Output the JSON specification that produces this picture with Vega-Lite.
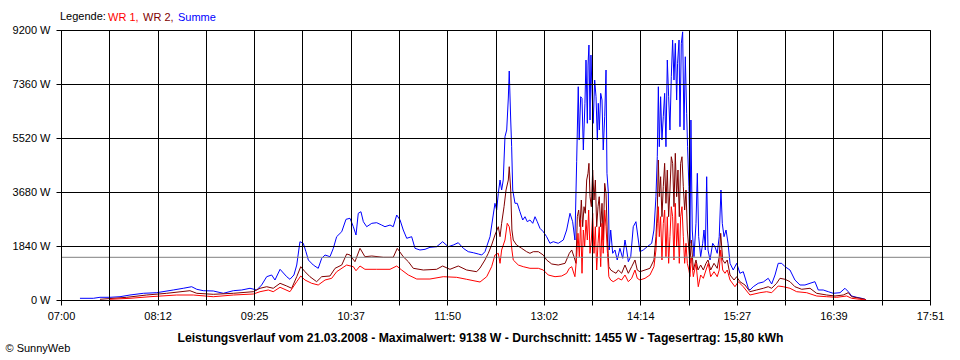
{
  "$schema": "https://vega.github.io/schema/vega-lite/v6.json",
  "width": 869,
  "height": 270,
  "autosize": {"type": "none"},
  "padding": {"left": 61, "top": 30, "right": 30, "bottom": 60},
  "background": "white",
  "config": {
    "font": "Liberation Sans",
    "view": {"stroke": "black", "strokeWidth": 1},
    "axis": {"labelFont": "Liberation Sans", "titleFont": "Liberation Sans"}
  },
  "datasets": {
    "sum": [
      {"t":434.2,"w":58},{"t":444.2,"w":58},{"t":449.2,"w":92},{"t":456.7,"w":92},{"t":464.2,"w":112},{"t":471.7,"w":170},{"t":481.7,"w":228},{"t":491.7,"w":249},{"t":504.1,"w":341},{"t":511.6,"w":399},{"t":517.9,"w":453},{"t":521.7,"w":365},{"t":526.6,"w":317},{"t":534.1,"w":307},{"t":541.6,"w":228},{"t":549.1,"w":317},{"t":555.4,"w":341},{"t":561.6,"w":399},{"t":566.6,"w":341},{"t":570.3,"w":511},{"t":574.1,"w":794},{"t":577.8,"w":852},{"t":580.3,"w":681},{"t":584.1,"w":1046},{"t":589.1,"w":794},{"t":591.5,"w":705},{"t":594.5,"w":852},{"t":596.6,"w":1192},{"t":599.0,"w":1986},{"t":601.5,"w":1932},{"t":603.5,"w":1646},{"t":605.3,"w":1363},{"t":609.0,"w":1192},{"t":612.7,"w":1080},{"t":615.3,"w":1421},{"t":617.8,"w":1533},{"t":621.5,"w":1475},{"t":624.0,"w":1761},{"t":626.5,"w":2157},{"t":630.3,"w":2327},{"t":633.5,"w":2749},{"t":636.5,"w":2784},{"t":639.0,"w":2497},{"t":641.0,"w":2215},{"t":642.7,"w":2954},{"t":644.7,"w":3008},{"t":646.5,"w":2668},{"t":649.0,"w":2497},{"t":652.8,"w":2613},{"t":656.5,"w":2634},{"t":660.2,"w":2555},{"t":662.7,"w":2497},{"t":666.5,"w":2555},{"t":668.9,"w":2497},{"t":671.5,"w":2896},{"t":674.0,"w":2726},{"t":676.4,"w":2385},{"t":679.0,"w":2102},{"t":682.7,"w":2157},{"t":685.2,"w":1761},{"t":688.9,"w":1704},{"t":692.7,"w":1727},{"t":696.4,"w":1795},{"t":701.4,"w":1816},{"t":705.9,"w":1986},{"t":710.1,"w":1816},{"t":713.9,"w":1874},{"t":717.6,"w":1952},{"t":721.4,"w":1761},{"t":725.1,"w":1646},{"t":728.9,"w":1611},{"t":732.6,"w":1567},{"t":735.2,"w":1533},{"t":737.6,"w":1646},{"t":741.4,"w":2157},{"t":743.8,"w":2896},{"t":745.1,"w":3295},{"t":746.4,"w":3066},{"t":747.6,"w":3635},{"t":748.9,"w":4088},{"t":750.1,"w":3748},{"t":751.3,"w":4088},{"t":752.6,"w":5564},{"t":753.9,"w":5792},{"t":755.1,"w":6882},{"t":755.8,"w":7802},{"t":756.9,"w":6133},{"t":757.6,"w":5223},{"t":758.4,"w":3748},{"t":760.1,"w":3295},{"t":761.8,"w":3295},{"t":763.8,"w":3008},{"t":765.9,"w":2726},{"t":767.6,"w":2838},{"t":769.3,"w":2668},{"t":771.3,"w":2726},{"t":773.4,"w":2613},{"t":775.1,"w":2838},{"t":776.8,"w":2668},{"t":778.8,"w":2443},{"t":781.3,"w":2327},{"t":783.8,"w":2157},{"t":786.3,"w":1932},{"t":788.8,"w":1986},{"t":792.5,"w":1932},{"t":796.3,"w":2044},{"t":798.8,"w":2385},{"t":801.3,"w":2954},{"t":803.3,"w":2668},{"t":805.0,"w":2044},{"t":806.3,"w":4712},{"t":807.5,"w":7267},{"t":808.2,"w":5451},{"t":809.3,"w":6927},{"t":810.3,"w":6872},{"t":811.3,"w":5111},{"t":812.5,"w":6702},{"t":813.3,"w":8177},{"t":814.3,"w":6020},{"t":814.8,"w":8006},{"t":815.5,"w":8688},{"t":816.3,"w":6133},{"t":817.0,"w":8347},{"t":817.8,"w":7155},{"t":818.7,"w":6020},{"t":819.8,"w":7495},{"t":820.8,"w":6927},{"t":821.8,"w":5451},{"t":822.5,"w":6702},{"t":823.3,"w":5792},{"t":824.3,"w":7042},{"t":825.3,"w":6814},{"t":826.2,"w":5111},{"t":827.3,"w":6245},{"t":828.3,"w":7836},{"t":829.0,"w":4317},{"t":830.0,"w":3690},{"t":830.7,"w":1704},{"t":831.8,"w":2385},{"t":833.3,"w":1591},{"t":835.0,"w":1704},{"t":836.7,"w":1363},{"t":838.7,"w":1761},{"t":840.8,"w":1421},{"t":842.5,"w":2044},{"t":843.8,"w":1704},{"t":845.0,"w":1305},{"t":846.8,"w":1475},{"t":848.7,"w":2497},{"t":850.7,"w":2668},{"t":852.5,"w":2044},{"t":853.7,"w":1646},{"t":856.2,"w":1704},{"t":859.2,"w":1816},{"t":862.5,"w":1932},{"t":864.2,"w":2385},{"t":865.7,"w":3520},{"t":866.7,"w":4882},{"t":867.5,"w":7267},{"t":868.2,"w":5223},{"t":869.2,"w":6927},{"t":870.2,"w":5451},{"t":871.2,"w":6245},{"t":872.2,"w":7042},{"t":873.2,"w":5223},{"t":874.2,"w":8177},{"t":875.2,"w":6927},{"t":876.2,"w":5792},{"t":877.2,"w":7608},{"t":878.2,"w":8858},{"t":879.2,"w":7495},{"t":880.2,"w":8746},{"t":881.2,"w":6814},{"t":881.9,"w":8065},{"t":883.0,"w":8858},{"t":883.7,"w":5904},{"t":884.7,"w":8746},{"t":885.7,"w":9138},{"t":886.7,"w":5792},{"t":887.7,"w":8289},{"t":888.7,"w":6361},{"t":889.4,"w":5223},{"t":890.4,"w":3860},{"t":891.2,"w":1932},{"t":891.9,"w":6133},{"t":892.9,"w":2385},{"t":894.2,"w":1475},{"t":895.7,"w":2613},{"t":896.7,"w":4317},{"t":897.7,"w":2157},{"t":899.2,"w":1475},{"t":900.7,"w":1932},{"t":901.7,"w":2385},{"t":902.7,"w":1704},{"t":903.7,"w":4201},{"t":904.7,"w":1704},{"t":906.2,"w":1363},{"t":908.2,"w":1932},{"t":909.9,"w":1816},{"t":911.6,"w":1591},{"t":913.1,"w":2157},{"t":914.4,"w":3748},{"t":915.4,"w":2613},{"t":916.7,"w":2157},{"t":918.2,"w":2385},{"t":919.7,"w":1932},{"t":921.2,"w":1250},{"t":923.6,"w":1022},{"t":926.2,"w":1250},{"t":928.6,"w":910},{"t":931.1,"w":964},{"t":934.9,"w":399},{"t":936.1,"w":341},{"t":938.6,"w":453},{"t":942.3,"w":569},{"t":946.1,"w":613},{"t":949.8,"w":739},{"t":952.4,"w":545},{"t":954.9,"w":852},{"t":957.3,"w":1250},{"t":959.9,"w":1250},{"t":962.4,"w":1135},{"t":966.1,"w":1022},{"t":969.8,"w":681},{"t":973.6,"w":511},{"t":977.3,"w":511},{"t":981.1,"w":569},{"t":984.8,"w":624},{"t":987.3,"w":341},{"t":991.0,"w":341},{"t":994.8,"w":283},{"t":998.5,"w":228},{"t":1003.6,"w":249},{"t":1007.3,"w":399},{"t":1009.8,"w":283},{"t":1012.3,"w":136},{"t":1016.1,"w":92},{"t":1019.8,"w":58},{"t":1022.3,"w":24},{"t":1023.1,"w":0}
    ],
    "wr2": [
      {"t":449.2,"w":24},{"t":469.2,"w":92},{"t":484.2,"w":170},{"t":499.2,"w":228},{"t":516.6,"w":317},{"t":521.7,"w":228},{"t":534.1,"w":194},{"t":549.1,"w":228},{"t":564.1,"w":283},{"t":569.1,"w":399},{"t":574.1,"w":453},{"t":579.0,"w":399},{"t":584.1,"w":569},{"t":589.1,"w":477},{"t":592.8,"w":399},{"t":596.6,"w":794},{"t":599.6,"w":1135},{"t":602.8,"w":964},{"t":606.5,"w":794},{"t":611.5,"w":624},{"t":615.3,"w":794},{"t":621.5,"w":818},{"t":625.3,"w":1080},{"t":630.3,"w":1192},{"t":634.0,"w":1567},{"t":636.5,"w":1533},{"t":640.2,"w":1305},{"t":644.0,"w":1761},{"t":647.7,"w":1475},{"t":652.8,"w":1499},{"t":661.4,"w":1455},{"t":668.9,"w":1455},{"t":671.9,"w":1761},{"t":676.4,"w":1475},{"t":680.2,"w":1305},{"t":683.9,"w":1080},{"t":691.4,"w":1022},{"t":701.4,"w":1046},{"t":705.9,"w":1158},{"t":711.4,"w":1046},{"t":717.6,"w":1158},{"t":723.9,"w":1022},{"t":731.4,"w":964},{"t":733.9,"w":1090},{"t":737.6,"w":1363},{"t":740.1,"w":1591},{"t":742.6,"w":1874},{"t":745.1,"w":2215},{"t":747.6,"w":2497},{"t":748.9,"w":2157},{"t":750.1,"w":2613},{"t":751.9,"w":3179},{"t":753.4,"w":3748},{"t":755.1,"w":4088},{"t":755.8,"w":4542},{"t":756.9,"w":3748},{"t":757.8,"w":2385},{"t":758.8,"w":2044},{"t":761.3,"w":1874},{"t":765.1,"w":1761},{"t":768.8,"w":1646},{"t":771.3,"w":1591},{"t":773.8,"w":1646},{"t":777.6,"w":1646},{"t":781.3,"w":1533},{"t":783.8,"w":1363},{"t":787.6,"w":1227},{"t":792.5,"w":1192},{"t":797.6,"w":1250},{"t":800.8,"w":1591},{"t":802.6,"w":1704},{"t":804.3,"w":1475},{"t":805.8,"w":1250},{"t":806.8,"w":2838},{"t":807.8,"w":3066},{"t":808.8,"w":2497},{"t":809.8,"w":3407},{"t":810.8,"w":2497},{"t":811.8,"w":3179},{"t":812.8,"w":2954},{"t":813.8,"w":4088},{"t":814.8,"w":4317},{"t":815.5,"w":4657},{"t":816.3,"w":3520},{"t":817.3,"w":3179},{"t":818.3,"w":4429},{"t":819.3,"w":3407},{"t":820.3,"w":4088},{"t":821.3,"w":2497},{"t":822.3,"w":3179},{"t":823.2,"w":3520},{"t":824.3,"w":2497},{"t":825.3,"w":3295},{"t":826.2,"w":2044},{"t":827.3,"w":3976},{"t":828.3,"w":3635},{"t":829.4,"w":2044},{"t":830.4,"w":1135},{"t":831.8,"w":1022},{"t":833.7,"w":964},{"t":835.8,"w":910},{"t":837.5,"w":1022},{"t":840.0,"w":910},{"t":842.5,"w":1192},{"t":845.0,"w":910},{"t":847.5,"w":1135},{"t":850.0,"w":1363},{"t":851.7,"w":1022},{"t":853.7,"w":964},{"t":857.5,"w":1022},{"t":861.2,"w":1080},{"t":864.2,"w":1363},{"t":865.7,"w":2157},{"t":866.7,"w":3066},{"t":867.5,"w":4770},{"t":868.2,"w":3520},{"t":869.2,"w":4201},{"t":870.2,"w":2838},{"t":871.2,"w":3860},{"t":872.2,"w":4657},{"t":873.2,"w":3295},{"t":874.2,"w":4429},{"t":875.2,"w":2838},{"t":876.2,"w":3748},{"t":877.2,"w":4882},{"t":878.2,"w":4657},{"t":879.2,"w":3179},{"t":880.2,"w":4998},{"t":881.2,"w":3520},{"t":882.2,"w":4429},{"t":883.2,"w":2838},{"t":884.2,"w":4657},{"t":885.2,"w":4882},{"t":886.2,"w":3860},{"t":887.2,"w":3066},{"t":888.2,"w":3748},{"t":889.2,"w":2385},{"t":890.4,"w":1704},{"t":891.2,"w":1250},{"t":892.2,"w":2044},{"t":893.7,"w":1022},{"t":895.7,"w":1363},{"t":897.2,"w":1022},{"t":899.2,"w":1192},{"t":901.2,"w":1022},{"t":903.2,"w":1250},{"t":904.7,"w":1363},{"t":906.7,"w":1022},{"t":909.2,"w":1250},{"t":911.6,"w":1080},{"t":913.1,"w":1475},{"t":914.2,"w":2273},{"t":915.7,"w":1363},{"t":917.4,"w":1250},{"t":919.1,"w":1363},{"t":921.2,"w":852},{"t":924.2,"w":681},{"t":926.2,"w":794},{"t":928.6,"w":624},{"t":932.4,"w":511},{"t":936.1,"w":283},{"t":941.1,"w":341},{"t":946.1,"w":399},{"t":949.8,"w":453},{"t":952.4,"w":399},{"t":956.1,"w":569},{"t":958.6,"w":739},{"t":962.4,"w":705},{"t":966.1,"w":624},{"t":969.8,"w":453},{"t":974.9,"w":365},{"t":981.1,"w":399},{"t":986.1,"w":228},{"t":993.6,"w":170},{"t":999.8,"w":136},{"t":1006.0,"w":170},{"t":1009.8,"w":249},{"t":1012.3,"w":112},{"t":1018.5,"w":58},{"t":1022.3,"w":24},{"t":1023.1,"w":0}
    ],
    "wr1": [
      {"t":456.7,"w":24},{"t":471.7,"w":58},{"t":486.7,"w":112},{"t":506.7,"w":170},{"t":519.1,"w":170},{"t":534.1,"w":112},{"t":549.1,"w":170},{"t":564.1,"w":204},{"t":569.1,"w":283},{"t":575.3,"w":341},{"t":579.0,"w":283},{"t":584.1,"w":433},{"t":591.5,"w":283},{"t":596.6,"w":624},{"t":599.6,"w":818},{"t":602.8,"w":681},{"t":607.8,"w":569},{"t":612.7,"w":511},{"t":617.8,"w":681},{"t":622.8,"w":739},{"t":626.5,"w":964},{"t":634.0,"w":1192},{"t":639.0,"w":1135},{"t":641.0,"w":998},{"t":644.0,"w":1158},{"t":647.7,"w":1046},{"t":656.5,"w":1046},{"t":666.5,"w":1046},{"t":671.5,"w":1158},{"t":675.2,"w":1022},{"t":680.2,"w":852},{"t":686.5,"w":715},{"t":696.4,"w":715},{"t":706.4,"w":794},{"t":716.4,"w":773},{"t":723.9,"w":705},{"t":733.9,"w":613},{"t":738.9,"w":794},{"t":742.6,"w":1135},{"t":745.1,"w":1533},{"t":747.6,"w":1591},{"t":748.9,"w":1250},{"t":750.1,"w":1704},{"t":752.6,"w":2044},{"t":754.3,"w":2613},{"t":755.8,"w":2497},{"t":756.9,"w":2157},{"t":757.8,"w":1704},{"t":758.8,"w":1363},{"t":762.6,"w":1192},{"t":766.3,"w":1135},{"t":771.3,"w":1080},{"t":777.6,"w":1080},{"t":781.3,"w":1022},{"t":785.0,"w":852},{"t":790.1,"w":794},{"t":795.1,"w":818},{"t":798.8,"w":910},{"t":800.8,"w":1080},{"t":802.6,"w":1135},{"t":805.0,"w":794},{"t":806.3,"w":1475},{"t":807.3,"w":2273},{"t":808.3,"w":1475},{"t":809.3,"w":2726},{"t":810.3,"w":910},{"t":811.3,"w":2385},{"t":812.3,"w":1816},{"t":813.3,"w":2726},{"t":814.3,"w":2044},{"t":815.3,"w":3066},{"t":816.3,"w":1591},{"t":817.3,"w":2044},{"t":818.3,"w":2954},{"t":819.3,"w":1591},{"t":820.3,"w":2497},{"t":821.3,"w":1022},{"t":822.3,"w":1932},{"t":823.2,"w":2497},{"t":824.3,"w":1135},{"t":825.3,"w":2613},{"t":826.2,"w":1591},{"t":827.3,"w":3066},{"t":828.3,"w":2497},{"t":829.4,"w":1591},{"t":830.4,"w":794},{"t":831.8,"w":681},{"t":833.7,"w":624},{"t":835.8,"w":681},{"t":837.5,"w":739},{"t":840.0,"w":681},{"t":842.5,"w":852},{"t":845.0,"w":624},{"t":847.5,"w":739},{"t":850.0,"w":1022},{"t":851.7,"w":739},{"t":853.7,"w":681},{"t":857.5,"w":739},{"t":861.2,"w":852},{"t":864.2,"w":1135},{"t":865.7,"w":1704},{"t":866.7,"w":2613},{"t":867.5,"w":3179},{"t":868.2,"w":2157},{"t":869.2,"w":2838},{"t":870.2,"w":1363},{"t":871.2,"w":2613},{"t":872.2,"w":3066},{"t":873.2,"w":1475},{"t":874.2,"w":2838},{"t":875.2,"w":1250},{"t":876.2,"w":2157},{"t":877.2,"w":3179},{"t":878.2,"w":2838},{"t":879.2,"w":1363},{"t":880.2,"w":3295},{"t":881.2,"w":1816},{"t":882.2,"w":2613},{"t":883.2,"w":1250},{"t":884.2,"w":2838},{"t":885.2,"w":3179},{"t":886.2,"w":2157},{"t":887.2,"w":1250},{"t":888.2,"w":1932},{"t":889.2,"w":1250},{"t":890.4,"w":1022},{"t":891.2,"w":794},{"t":892.2,"w":1475},{"t":893.7,"w":794},{"t":895.7,"w":1250},{"t":897.4,"w":453},{"t":899.2,"w":852},{"t":901.2,"w":739},{"t":903.2,"w":1022},{"t":904.9,"w":1250},{"t":906.7,"w":794},{"t":909.2,"w":964},{"t":911.6,"w":794},{"t":913.1,"w":1022},{"t":914.2,"w":1704},{"t":915.7,"w":1022},{"t":917.4,"w":910},{"t":919.1,"w":1022},{"t":921.2,"w":681},{"t":924.9,"w":453},{"t":927.4,"w":624},{"t":931.1,"w":453},{"t":936.1,"w":170},{"t":943.6,"w":249},{"t":948.6,"w":283},{"t":952.4,"w":249},{"t":957.3,"w":477},{"t":961.1,"w":453},{"t":966.1,"w":399},{"t":971.1,"w":283},{"t":978.6,"w":249},{"t":986.1,"w":136},{"t":993.6,"w":112},{"t":1001.1,"w":92},{"t":1008.6,"w":136},{"t":1012.3,"w":58},{"t":1018.5,"w":24},{"t":1023.1,"w":0}
    ],
    "avg": [{"t":420,"w":1455},{"t":1071,"w":1455}]
  },
  "encoding": {
    "x": {
      "field": "t", "type": "quantitative",
      "scale": {"domain": [420, 1071], "nice": false, "zero": false},
      "axis": {
        "values": [420,456.17,492.33,528.5,564.67,600.83,637,673.17,709.33,745.5,781.67,817.83,854,890.17,926.33,962.5,998.67,1034.83,1071],
        "labelExpr": "round((datum.value-420)/36.1667) % 2 == 1 ? '' : ['07:00','08:12','09:25','10:37','11:50','13:02','14:14','15:27','16:39','17:51'][round((datum.value-420)/72.3333)]",
        "grid": true, "gridColor": "#000000", "gridOpacity": 1, "gridWidth": 1,
        "domainColor": "#000000", "tickColor": "#000000", "tickSize": 5,
        "labelColor": "#000000", "labelFontSize": 11, "labelPadding": 5, "labelFlush": false, "labelOverlap": false,
        "zindex": 1,
        "title": "Leistungsverlauf vom 21.03.2008 - Maximalwert: 9138 W - Durchschnitt: 1455 W - Tagesertrag: 15,80 kWh",
        "titleFontSize": 12.2, "titleFontWeight": "bold", "titleColor": "#000000",
        "titleX": 419, "titleY": 41.5, "titleAlign": "center", "titleBaseline": "alphabetic"
      }
    },
    "y": {
      "field": "w", "type": "quantitative",
      "scale": {"domain": [0, 9200], "nice": false},
      "axis": {
        "values": [0, 1840, 3680, 5520, 7360, 9200],
        "labelExpr": "datum.value + ' W'",
        "grid": true, "gridColor": "#000000", "gridOpacity": 1, "gridWidth": 1,
        "domainColor": "#000000", "tickColor": "#000000", "tickSize": 5,
        "labelColor": "#000000", "labelFontSize": 11, "labelPadding": 6,
        "zindex": 1,
        "title": "© SunnyWeb", "titleAngle": 0, "titleX": -56, "titleY": 321.5,
        "titleAlign": "left", "titleBaseline": "alphabetic",
        "titleFontSize": 11, "titleFontWeight": "normal", "titleColor": "#000000"
      }
    }
  },
  "layer": [
    {
      "data": {"name": "sum"},
      "mark": {"type": "line", "strokeWidth": 1},
      "encoding": {
        "color": {
          "datum": "Summe",
          "scale": {"domain": ["WR 1", "WR 2", "Summe"], "range": ["#ff0000", "#800000", "#0000ff"]},
          "legend": {
            "orient": "none", "legendX": -1, "legendY": -18,
            "direction": "horizontal",
            "title": "Legende:", "titleOrient": "left", "titleFontSize": 11, "titleFontWeight": "normal",
            "titleColor": "#000000", "titlePadding": 4, "titleBaseline": "middle",
            "labelFontSize": 11, "labelFont": "Liberation Sans",
            "labelExpr": "datum.label == 'Summe' ? datum.label : datum.label + ','",
            "symbolType": "circle", "symbolSize": 1, "symbolStrokeWidth": 0, "symbolOpacity": 0,
            "labelOffset": -13, "columnPadding": 4, "padding": 0,
            "encode": {"labels": {"update": {"fill": {"scale": "color", "field": "value"}}}}
          }
        }
      }
    },
    {
      "data": {"name": "wr2"},
      "mark": {"type": "line", "strokeWidth": 1},
      "encoding": {"color": {"datum": "WR 2"}}
    },
    {
      "data": {"name": "wr1"},
      "mark": {"type": "line", "strokeWidth": 1},
      "encoding": {"color": {"datum": "WR 1"}}
    },
    {
      "data": {"name": "avg"},
      "mark": {"type": "line", "strokeWidth": 1, "color": "#808080"},
      "encoding": {}
    }
  ]
}
